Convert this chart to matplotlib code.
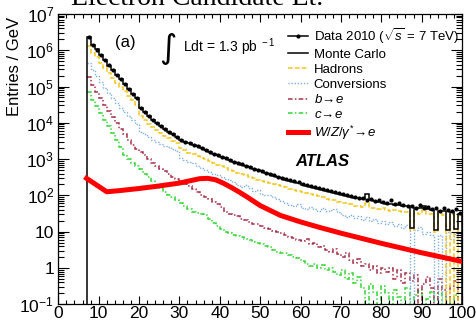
import numpy as np
import matplotlib
matplotlib.use("Agg")
import matplotlib.pyplot as plt
from matplotlib.lines import Line2D
from matplotlib.ticker import (FixedLocator, FixedFormatter, MultipleLocator,
                               LogLocator, NullFormatter)

plt.rcParams["font.family"] = ["Liberation Sans", "DejaVu Sans"]
plt.rcParams["mathtext.fontset"] = "custom"
plt.rcParams["mathtext.rm"] = "Liberation Sans"
plt.rcParams["mathtext.it"] = "Liberation Sans:italic"
plt.rcParams["mathtext.bf"] = "Liberation Sans:bold"

# ---------------------------------------------------------------------------
# Data: 1 GeV bins from 7 to 100 GeV, values read as log10(entries / GeV)
# nan = empty bin
# ---------------------------------------------------------------------------
ET_LO, ET_HI = 7, 100
nan = np.nan

data_log = [
    6.36, 6.15, 6.01, 5.87, 5.72, 5.58, 5.45, 5.32, 5.20, 5.07,
    4.93, 4.80, 4.68, 4.42, 4.30, 4.18, 4.08, 3.99, 3.90, 3.82,
    3.75, 3.68, 3.61, 3.52, 3.47, 3.43, 3.39, 3.35, 3.30, 3.25,
    3.20, 3.15, 3.10, 3.06, 3.02, 2.98, 2.93, 2.90, 2.86, 2.82,
    2.78, 2.74, 2.71, 2.67, 2.63, 2.60, 2.55, 2.52, 2.49, 2.45,
    2.42, 2.39, 2.36, 2.31, 2.30, 2.27, 2.24, 2.20, 2.19, 2.15,
    2.12, 2.10, 2.06, 2.04, 2.02, 1.97, 1.96, 1.93, 1.92, 1.86,
    1.90, 1.84, 1.86, 1.82, 1.80, 1.86, 1.76, 1.80, 1.74, 1.72,
    1.70, 1.66, 1.74, 1.64, 1.68, 1.62, 1.66, 1.57, 1.64, 1.60,
    1.58, 1.62, 1.52,
]
mc_log = [
    6.37, 6.15, 6.02, 5.88, 5.72, 5.57, 5.45, 5.33, 5.20, 5.07,
    4.93, 4.80, 4.68, 4.42, 4.30, 4.18, 4.08, 3.99, 3.90, 3.82,
    3.75, 3.68, 3.62, 3.52, 3.47, 3.43, 3.39, 3.35, 3.30, 3.25,
    3.20, 3.14, 3.10, 3.06, 3.02, 2.97, 2.93, 2.89, 2.85, 2.81,
    2.77, 2.73, 2.70, 2.66, 2.62, 2.58, 2.54, 2.50, 2.47, 2.43,
    2.40, 2.36, 2.33, 2.30, 2.27, 2.24, 2.21, 2.18, 2.16, 2.13,
    2.10, 2.07, 2.05, 2.02, 1.99, 1.96, 1.94, 1.92, 1.90, 2.05,
    1.86, 1.84, 1.82, 1.80, 1.76, 1.75, 1.74, 1.73, 1.72, 1.70,
    1.10, 1.66, 1.65, 1.72, 1.62, 1.60, 1.05, 1.58, 1.56, 1.05,
    1.55, 1.08, 1.50,
]
hadrons_log = [
    6.12, 5.93, 5.80, 5.66, 5.50, 5.36, 5.23, 5.11, 4.99, 4.87,
    4.74, 4.62, 4.50, 4.20, 4.08, 3.98, 3.88, 3.80, 3.72, 3.65,
    3.58, 3.51, 3.45, 3.30, 3.24, 3.18, 3.13, 3.09, 3.04, 2.99,
    2.94, 2.90, 2.85, 2.80, 2.76, 2.71, 2.66, 2.63, 2.59, 2.55,
    2.50, 2.47, 2.43, 2.40, 2.38, 2.35, 2.31, 2.28, 2.25, 2.22,
    2.18, 2.15, 2.12, 2.09, 2.07, 2.04, 2.00, 1.98, 1.95, 1.91,
    1.88, 1.86, 1.83, 1.80, 1.78, 1.76, 1.72, 1.70, 1.68, 1.80,
    1.66, 1.64, 1.62, 1.64, 1.60, 1.58, 1.60, 1.56, 1.54, 1.55,
    1.05, 1.52, 1.50, 1.60, 1.48, 1.50, 1.00, 1.48, 1.46, nan,
    1.48, nan, 1.42,
]
conversions_log = [
    5.66, 5.45, 5.28, 5.12, 4.96, 4.82, 4.68, 4.55, 4.42, 4.30,
    4.18, 4.07, 3.96, 3.76, 3.68, 3.61, 3.54, 3.48, 3.42, 3.37,
    3.32, 3.27, 3.22, 3.03, 2.98, 2.93, 2.88, 2.82, 2.76, 2.70,
    2.64, 2.60, 2.55, 2.52, 2.46, 2.42, 2.37, 2.30, 2.24, 2.28,
    2.20, 2.12, 2.15, 2.05, 2.00, 2.02, 1.95, 1.90, 1.84, 1.80,
    1.74, 1.70, 1.75, 1.66, 1.63, 1.68, 1.62, 1.58, 1.64, 1.56,
    1.60, 1.62, 1.54, 1.45, 1.41, 1.45, 1.38, 1.42, 1.33, 1.40,
    1.30, 1.35, 1.25, 1.30, 1.20, 1.26, 1.15, 1.22, 1.10, 1.18,
    nan, 1.05, 1.12, 0.95, 1.00, 0.92, nan, 0.90, nan, 1.00,
    0.80, 0.95, 0.75,
]
b_to_e_log = [
    5.27, 5.05, 4.85, 4.67, 4.50, 4.33, 4.17, 4.00, 3.84, 3.68,
    3.53, 3.40, 3.28, 3.20, 3.10, 3.00, 2.90, 2.82, 2.74, 2.66,
    2.60, 2.52, 2.45, 2.38, 2.32, 2.25, 2.18, 2.10, 2.02, 1.96,
    1.90, 1.82, 1.76, 1.68, 1.55, 1.50, 1.45, 1.42, 1.36, 1.32,
    1.28, 1.22, 1.20, 1.16, 1.10, 1.08, 1.02, 0.98, 0.96, 0.90,
    0.86, 0.82, 0.78, 0.75, 0.80, 0.66, 0.70, 0.58, 0.62, 0.50,
    0.45, 0.52, 0.38, 0.30, 0.40, 0.22, 0.15, 0.25, 0.05, 0.10,
    -0.05, 0.05, -0.15, 0.00, -0.10, 0.00, -0.30, -0.05, -0.40, -0.15,
    -0.35, -0.20, nan, -0.45, -0.25, -0.55, nan, -0.30, -0.60, nan,
    -0.50, -0.35, nan,
]
c_to_e_log = [
    4.86, 4.64, 4.45, 4.26, 4.08, 3.90, 3.71, 3.52, 3.32, 3.12,
    3.00, 2.90, 2.82, 2.72, 2.60, 2.50, 2.40, 2.30, 2.20, 2.10,
    2.02, 1.95, 1.88, 1.80, 1.72, 1.62, 1.55, 1.52, 1.50, 1.45,
    1.35, 1.25, 1.15, 1.08, 1.00, 0.96, 0.92, 0.88, 0.85, 0.80,
    0.76, 0.72, 0.70, 0.66, 0.62, 0.58, 0.50, 0.45, 0.40, 0.42,
    0.35, 0.30, 0.28, 0.20, 0.10, 0.05, 0.12, 0.00, 0.08, -0.05,
    0.00, -0.10, -0.20, -0.05, -0.30, -0.15, -0.40, -0.25, -0.55, nan,
    -0.45, -0.65, nan, -0.50, -0.70, nan, -0.60, -0.80, nan, -0.55,
    nan, -0.75, -0.60, nan, -0.85, -0.65, nan, -0.70, nan, -0.80,
    nan, -0.75, nan,
]

# W/Z/gamma* -> e, smooth curve
wz_et = [7, 12, 15, 20, 25, 30, 35, 37, 39, 41, 43, 45, 47, 50,
         55, 60, 65, 70, 75, 80, 85, 90, 95, 100]
wz_log = [2.47, 2.10, 2.13, 2.19, 2.26, 2.34, 2.46, 2.47, 2.43, 2.33,
          2.21, 2.08, 1.94, 1.72, 1.45, 1.27, 1.11, 0.96, 0.82, 0.68,
          0.55, 0.42, 0.30, 0.18]

ytick_vals = [1e-1, 1, 10, 1e2, 1e3, 1e4, 1e5, 1e6, 1e7]
ytick_labels = [r"$10^{-1}$", "1", "10", r"$10^{2}$", r"$10^{3}$",
                r"$10^{4}$", r"$10^{5}$", r"$10^{6}$", r"$10^{7}$"]


def counts(logs):
    v = 10.0 ** np.asarray(logs, dtype=float)
    return np.nan_to_num(v, nan=1e-6)


edges = np.arange(ET_LO, ET_HI + 1)
centres = edges[:-1] + 0.5

# ---------------------------------------------------------------------------
# Figure
# ---------------------------------------------------------------------------
fig = plt.figure(figsize=(4.77, 3.21), dpi=100)
ax = fig.add_axes([0.1222, 0.052, 0.8464, 0.9047])

C_HAD = "#f5c518"
C_CONV = "#7fb0e0"
C_B = "#a8304a"
C_C = "#33d633"
C_WZ = "#ff0000"

ax.stairs(counts(c_to_e_log), edges, baseline=None, color=C_C,
          lw=1.1, ls=(0, (3, 1.5, 1, 1.5)))
ax.stairs(counts(b_to_e_log), edges, baseline=None, color=C_B,
          lw=1.1, ls=(0, (3, 1.5, 1, 1.5)))
ax.stairs(counts(conversions_log), edges, baseline=None, color=C_CONV,
          lw=1.0, ls=(0, (1, 1.2)))
ax.stairs(counts(hadrons_log), edges, baseline=None, color=C_HAD,
          lw=1.1, ls=(0, (3, 1.5)))
ax.plot(wz_et, 10.0 ** np.array(wz_log), color=C_WZ, lw=3.6,
        solid_joinstyle="round")
ax.stairs(counts(mc_log), edges, baseline=1e-6, color="k", lw=1.1)
ax.plot(centres, counts(data_log), "o", color="k", ms=3.0, mew=0)

ax.set_yscale("log")
ax.set_xlim(0, 100)
ax.set_ylim(0.1, 1e7)

ax.xaxis.set_major_locator(MultipleLocator(10))
ax.xaxis.set_minor_locator(MultipleLocator(2))
ax.yaxis.set_major_locator(FixedLocator(ytick_vals))
ax.yaxis.set_major_formatter(FixedFormatter(ytick_labels))
ax.yaxis.set_minor_locator(LogLocator(base=10, subs=np.arange(2, 10), numticks=30))
ax.yaxis.set_minor_formatter(NullFormatter())

ax.tick_params(which="both", direction="in", top=True, right=True, width=0.8)
ax.tick_params(axis="x", which="major", length=6, labelsize=12.5, pad=1.2)
ax.tick_params(axis="x", which="minor", length=3)
ax.tick_params(axis="y", which="major", length=8, labelsize=12.5, pad=3)
ax.tick_params(axis="y", which="minor", length=4.5)
for s in ax.spines.values():
    s.set_linewidth(0.9)

# legend
handles = [
    Line2D([], [], color="k", lw=1.1, marker="o", ms=3.0, mew=0),
    Line2D([], [], color="k", lw=1.1),
    Line2D([], [], color=C_HAD, lw=1.1, ls=(0, (3, 1.5))),
    Line2D([], [], color=C_CONV, lw=1.0, ls=(0, (1, 1.2))),
    Line2D([], [], color=C_B, lw=1.1, ls=(0, (3, 1.5, 1, 1.5))),
    Line2D([], [], color=C_C, lw=1.1, ls=(0, (3, 1.5, 1, 1.5))),
    Line2D([], [], color=C_WZ, lw=3.6),
]
labels = [
    r"Data 2010 ($\sqrt{s}$ = 7 TeV)",
    "Monte Carlo",
    "Hadrons",
    "Conversions",
    r"$b\!\rightarrow\! e$",
    r"$c\!\rightarrow\! e$",
    r"$W/Z/\gamma^{*}\!\rightarrow\! e$",
]
ax.legend(handles, labels, loc="upper left", bbox_to_anchor=(0.569, 0.958),
          frameon=False, fontsize=9.5, handlelength=1.5, handletextpad=0.45,
          labelspacing=0.2, borderpad=0, borderaxespad=0)

ax.text(0.165, 0.90, "(a)", transform=ax.transAxes, fontsize=12,
        ha="center", va="center")
ax.text(0.272, 0.882, "\u222b", transform=ax.transAxes, fontsize=24,
        family="DejaVu Sans", ha="center", va="center")
ax.text(0.309, 0.869, r"Ldt = 1.3 pb$^{\ -1}$", transform=ax.transAxes,
        fontsize=10, ha="left", va="baseline")
ax.text(0.653, 0.493, "ATLAS", transform=ax.transAxes, fontsize=12,
        fontweight="bold", fontstyle="italic", ha="center", va="center")

fig.text(0.0304, 0.947, "Entries / GeV", rotation=90, fontsize=12,
         ha="center", va="top")
fig.text(0.413, 0.984, "Electron Candidate Et.", family="Liberation Serif",
         fontsize=20, ha="center", va="baseline")

fig.savefig("out.png", dpi=100)
